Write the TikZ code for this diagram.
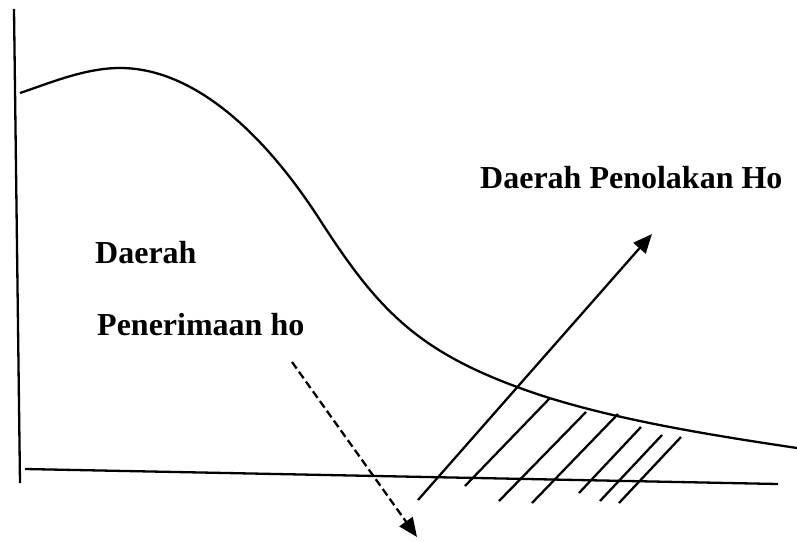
\documentclass[tikz,border=0pt]{standalone}
\usepackage{fontspec}
\setmainfont{Liberation Serif}
\usetikzlibrary{arrows.meta}
\begin{document}
\begin{tikzpicture}[x=1pt,y=-1pt,
  ln/.style={line width=2.3pt,black},
  hatch/.style={line width=2.3pt,black},
  lbl/.style={font=\fontsize{32}{36}\selectfont\bfseries,inner sep=0pt,anchor=base west},
  tip/.style={-{Triangle[length=19pt,width=16pt]}}]
\useasboundingbox (0,0) rectangle (797,541);
% axes
\coordinate (yt) at (14,9);
\coordinate (yb) at (20,483);
\coordinate (xl) at (25,469);
\coordinate (xr) at (778,484);
\draw[ln] (yt) -- (yb);
\draw[ln] (xl) -- (xr);
% curve
\coordinate (c0) at (20,93);
\coordinate (c1) at (120,68);
\coordinate (c2) at (320,220);
\coordinate (c3) at (540,395);
\coordinate (c4) at (797,448);
\draw[ln] (c0) .. controls (50,83) and (85,68) .. (c1)
  .. controls (190,68) and (260,127) .. (c2)
  .. controls (380,313) and (420,355) .. (c3)
  .. controls (620,421) and (717,436) .. (c4);
% labels
\node[lbl] (rej) at (480,188) {Daerah Penolakan Ho};
\node[lbl] (acc1) at (95,263) {Daerah};
\node[lbl] (acc2) at (97,335) {Penerimaan ho};
% main arrow
\coordinate (a0) at (418,500);
\coordinate (a1) at (652,234);
\draw[ln,tip] (a0) -- (a1);
% dashed arrow
\coordinate (d0) at (292,362);
\coordinate (d1) at (417,537);
\draw[ln,dash pattern=on 8pt off 4pt,tip] (d0) -- (d1);
% hatch lines
\coordinate (h2a) at (465,486); \coordinate (h2b) at (550,398);
\coordinate (h3a) at (499,501); \coordinate (h3b) at (586,412);
\coordinate (h4a) at (532,503); \coordinate (h4b) at (618,414);
\coordinate (h5a) at (579,493); \coordinate (h5b) at (641,427);
\coordinate (h6a) at (600,501); \coordinate (h6b) at (662,435);
\coordinate (h7a) at (619,503); \coordinate (h7b) at (681,437);
\foreach \i in {2,...,7} \draw[hatch] (h\i a) -- (h\i b);
\end{tikzpicture}
\end{document}
